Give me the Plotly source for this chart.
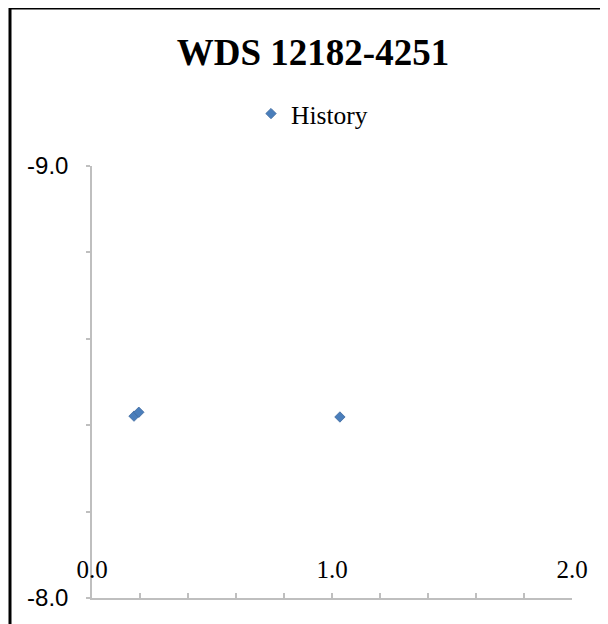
import plotly.graph_objects as go

# Data
sep_x = [0.175, 0.195, 1.033]
pa_y = [-8.421, -8.430, -8.419]
series_name = "History"
title_text = "WDS 12182-4251"
x_tickvals = [0.0, 1.0, 2.0]
x_ticktext = ["0.0", "1.0", "2.0"]
y_tickvals = [-9.0, -8.0]
y_ticktext = ["-9.0", "-8.0"]

OFF = 8  # page body margin in the browser
W, H = 608 - OFF, 624 - OFF
L, T = 92 - OFF, 166 - OFF
pw, ph = 480, 432
R, B = W - L - pw, H - T - ph

def px2x(px):  # reference page pixel -> paper x
    return (px - OFF - L) / pw

def py2y(py):  # reference page pixel -> paper y
    return (T + ph - (py - OFF)) / ph

fig = go.Figure()
fig.add_trace(go.Scatter(
    x=sep_x, y=pa_y, mode="markers", name=series_name,
    marker=dict(symbol="diamond", size=8, color="#4a7ebb",
                line=dict(color="#3f6a9e", width=0.8)),
))

axis_col = "#bfbfbf"
fig.update_layout(
    width=W, height=H,
    margin=dict(l=L, r=R, t=T, b=B),
    paper_bgcolor="white", plot_bgcolor="white",
    showlegend=True,
    title=dict(text="<b>" + title_text + "</b>", x=(313 - OFF) / W, xanchor="center",
               y=1 - (52 - OFF) / H, yanchor="middle",
               font=dict(family="Liberation Serif", size=37, color="black")),
    legend=dict(x=px2x(312), xanchor="center", y=py2y(114), yanchor="middle",
                orientation="h", font=dict(family="Liberation Serif", size=25.5, color="black"),
                bgcolor="rgba(0,0,0,0)"),
    xaxis=dict(range=[0, 2], tickvals=x_tickvals, ticktext=x_ticktext,
               showgrid=False, zeroline=False, showline=True, linecolor=axis_col, linewidth=1.5,
               ticks="inside", ticklen=5, tickcolor=axis_col, tickwidth=1.5,
               ticklabelposition="inside", ticklabelstandoff=12, ticklabeloverflow="allow",
               tickfont=dict(family="Liberation Serif", size=25, color="black"),
               minor=dict(dtick=0.2, ticks="inside", ticklen=5, tickcolor=axis_col, tickwidth=1.5, showgrid=False)),
    yaxis=dict(range=[-8, -9], tickvals=y_tickvals, ticktext=y_ticktext,
               showgrid=False, zeroline=False, showline=True, linecolor=axis_col, linewidth=1.5,
               ticks="outside", ticklen=4, tickcolor=axis_col, tickwidth=1.5,
               ticklabelstandoff=13, ticklabeloverflow="allow",
               tickfont=dict(family="Liberation Sans", size=24, color="black"),
               minor=dict(dtick=0.2, ticks="outside", ticklen=4, tickcolor=axis_col, tickwidth=1.5, showgrid=False)),
    shapes=[
        dict(type="line", xref="paper", yref="paper", x0=px2x(10), x1=px2x(10),
             y0=py2y(7), y1=py2y(640), line=dict(color="black", width=3)),
        dict(type="line", xref="paper", yref="paper", x0=px2x(9), x1=px2x(640),
             y0=py2y(8), y1=py2y(8), line=dict(color="black", width=3)),
    ],
)

fig.write_html("out.html")
